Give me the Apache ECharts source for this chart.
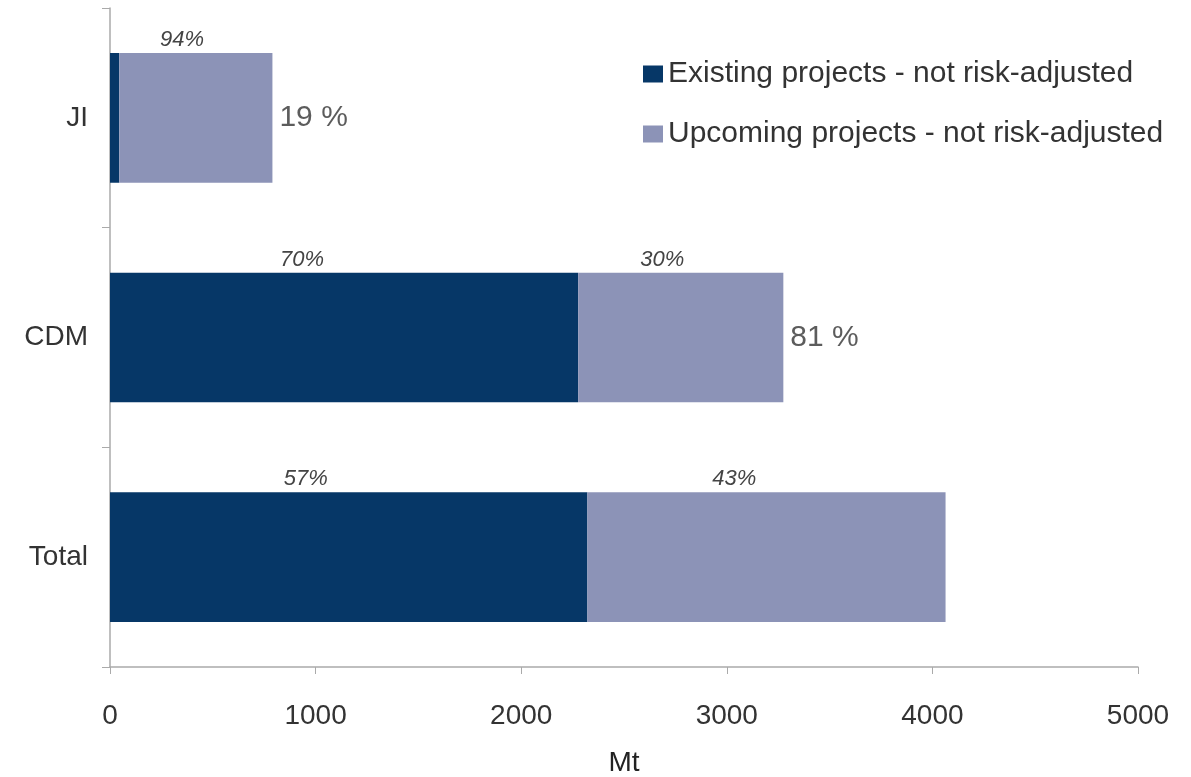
<!DOCTYPE html>
<html>
<head>
<meta charset="utf-8">
<script src="https://cdn.jsdelivr.net/npm/echarts@6/dist/echarts.min.js"></script>
<style>
  html, body { margin: 0; padding: 0; background: #fff; }
  #chart { width: 1191px; height: 777px; }
</style>
</head>
<body>
<div id="chart"></div>
<script>
// categories, top to bottom
const categories = ['JI', 'CDM', 'Total'];
// Mt
const existing = [45, 2277, 2322];
const upcoming = [745, 998, 1742];
// italic percentage labels above each segment
const existingPct = ['', '70%', '57%'];
const upcomingPct = ['94%', '30%', '43%'];
// share of total, shown right of the bar
const sharePct = ['19 %', '81 %', ''];

const totals = categories.map((c, i) => existing[i] + upcoming[i]);

const chart = echarts.init(document.getElementById('chart'));

// label sits a bit left of the segment centre, just above the bar
const pctLabel = (arr) => ({
  show: true,
  position: ['41%', -2],
  align: 'center',
  verticalAlign: 'bottom',
  fontFamily: 'Liberation Sans',
  fontStyle: 'italic',
  fontSize: 22,
  color: '#444',
  formatter: p => arr[p.dataIndex]
});

chart.setOption({
  animation: false,
  textStyle: { fontFamily: 'Liberation Sans' },
  grid: { left: 110, right: 53, top: 8, bottom: 110, containLabel: false, outerBoundsMode: 'none' },
  legend: {
    data: ['Existing projects - not risk-adjusted', 'Upcoming projects - not risk-adjusted'],
    orient: 'vertical',
    left: 638,
    top: 54,
    itemWidth: 20,
    itemHeight: 17,
    itemGap: 30,
    icon: 'rect',
    textStyle: { fontSize: 30, color: '#333', fontFamily: 'Liberation Sans' }
  },
  xAxis: {
    type: 'value',
    min: 0,
    max: 5000,
    interval: 1000,
    name: 'Mt',
    nameLocation: 'middle',
    nameGap: 82,
    nameTextStyle: { fontSize: 28, color: '#222' },
    axisLine: { show: true, lineStyle: { color: '#aaa', width: 1.5 } },
    axisTick: { show: true, length: 7, lineStyle: { color: '#aaa' } },
    axisLabel: { fontSize: 28, color: '#333', margin: 35, formatter: v => String(v) },
    splitLine: { show: false }
  },
  yAxis: {
    type: 'category',
    data: categories,
    inverse: true,
    axisLine: { show: true, lineStyle: { color: '#aaa', width: 1.5 } },
    axisTick: { show: true, length: 8, lineStyle: { color: '#aaa' } },
    axisLabel: { fontSize: 28, color: '#333', margin: 22 }
  },
  series: [
    {
      name: 'Existing projects - not risk-adjusted',
      type: 'bar',
      stack: 'all',
      barWidth: '59%',
      data: existing,
      itemStyle: { color: '#063767' },
      label: pctLabel(existingPct)
    },
    {
      name: 'Upcoming projects - not risk-adjusted',
      type: 'bar',
      stack: 'all',
      data: upcoming,
      itemStyle: { color: '#8c93b7' },
      label: pctLabel(upcomingPct)
    },
    {
      name: 'share',
      type: 'scatter',
      symbolSize: 0,
      data: totals.map((t, i) => [t, categories[i]]),
      label: {
        show: true,
        position: 'right',
        distance: 7,
        fontSize: 30,
        color: '#333',
        formatter: p => sharePct[p.dataIndex]
      },
      silent: true
    }
  ]
});
</script>
</body>
</html>
